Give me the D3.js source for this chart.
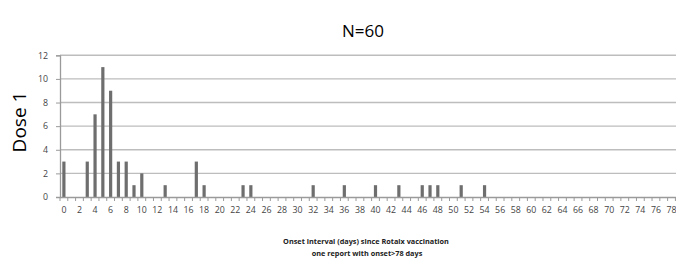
<!DOCTYPE html>
<html><head><meta charset="utf-8">
<script src="https://cdn.jsdelivr.net/npm/d3@7"></script>
<style>body{margin:0;background:#fff;}svg{display:block;}</style>
</head><body>
<script>
const title = "N=60";
const yLabel = "Dose 1";
const xTitle1 = "Onset interval (days) since Rotaix vaccination";
const xTitle2 = "one report with onset>78 days";
const days = d3.range(0, 79);
const caseDays = [0, 3, 4, 5, 6, 7, 8, 9, 10, 13, 17, 18, 23, 24, 32, 36, 40, 43, 46, 47, 48, 51, 54];
const caseCounts = [3, 3, 7, 11, 9, 3, 3, 1, 2, 1, 3, 1, 1, 1, 1, 1, 1, 1, 1, 1, 1, 1, 1];
const yTicks = [0, 2, 4, 6, 8, 10, 12];

const W = 676, H = 261;
const svg = d3.select("body").append("svg").attr("width", W).attr("height", H);
const x = d3.scaleBand().domain(days).range([60, 60 + 79 * 7.79]).paddingInner(0).paddingOuter(0);
const y = d3.scaleLinear().domain([0, 12]).range([197, 55.3]);

// gridlines
svg.append("g").selectAll("line").data(yTicks.filter(d => d > 0)).join("line")
  .attr("x1", 60).attr("x2", W).attr("y1", d => y(d)).attr("y2", d => y(d))
  .attr("stroke", "#bdbdbd").attr("stroke-width", 1.4);

// bars
const data = caseDays.map((d, i) => ({day: d, n: caseCounts[i]}));
svg.append("g").selectAll("rect").data(data).join("rect")
  .attr("x", d => x(d.day) + x.bandwidth() / 2 - 1.6)
  .attr("width", 3.2)
  .attr("y", d => y(d.n))
  .attr("height", d => y(0) - y(d.n))
  .attr("fill", "#6e6e6e");

// y axis
const ya = svg.append("g").attr("transform", "translate(60,0)")
  .call(d3.axisLeft(y).tickValues(yTicks).tickSize(4).tickPadding(8));
ya.select(".domain").attr("stroke", "#9a9a9a").attr("stroke-width", 1.3);
ya.selectAll(".tick line").attr("stroke", "#9a9a9a");
ya.selectAll("text").attr("font-family", "Open Sans, sans-serif").attr("font-size", 8.8).attr("fill", "#444");

// x axis
const xa = svg.append("g").attr("transform", "translate(0,197)")
  .call(d3.axisBottom(x).tickValues(days.filter(d => d % 2 === 0)).tickSize(0).tickPadding(10));
xa.select(".domain").attr("stroke", "#9a9a9a").attr("stroke-width", 1.3);
xa.selectAll("text").attr("font-family", "Open Sans, sans-serif").attr("font-size", 8.8).attr("fill", "#444");
// minor ticks at band boundaries
svg.append("g").selectAll("line").data(days.concat([79])).join("line")
  .attr("x1", d => 60 + d * x.step()).attr("x2", d => 60 + d * x.step())
  .attr("y1", 197).attr("y2", 201).attr("stroke", "#9a9a9a").attr("stroke-width", 1);

// titles
svg.append("text").attr("x", 363).attr("y", 37).attr("text-anchor", "middle")
  .attr("font-family", "Open Sans, sans-serif").attr("font-size", 17).attr("fill", "#000").text(title);
svg.append("text").attr("transform", "translate(26,122) rotate(-90)").attr("text-anchor", "middle")
  .attr("font-family", "Open Sans, sans-serif").attr("font-size", 19).attr("fill", "#000").text(yLabel);
svg.append("text").attr("x", 366).attr("y", 244).attr("text-anchor", "middle")
  .attr("font-family", "Open Sans, sans-serif").attr("font-size", 7.3).attr("font-weight", "bold").attr("fill", "#222").text(xTitle1);
svg.append("text").attr("x", 367).attr("y", 256).attr("text-anchor", "middle")
  .attr("font-family", "Open Sans, sans-serif").attr("font-size", 7.3).attr("font-weight", "bold").attr("fill", "#222").text(xTitle2);
</script>
</body></html>
